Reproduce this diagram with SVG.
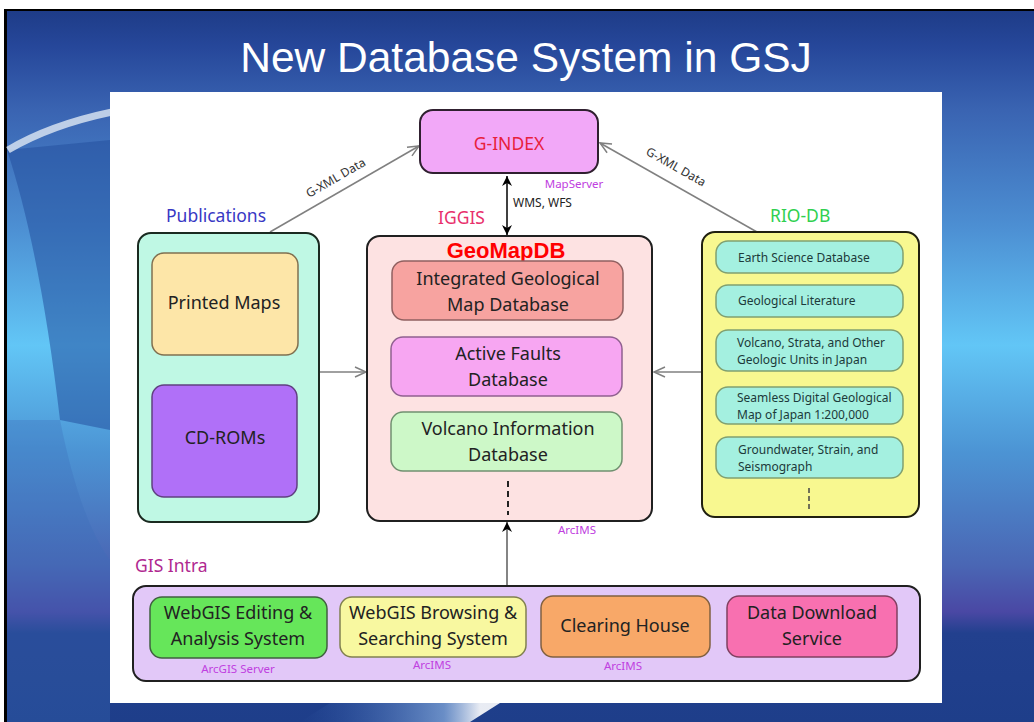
<svg xmlns="http://www.w3.org/2000/svg" width="1034" height="722" viewBox="0 0 1034 722">
<defs>
<linearGradient id="bg" x1="0" y1="11" x2="0" y2="722" gradientUnits="userSpaceOnUse">
<stop offset="0" stop-color="#1e3c88"/>
<stop offset="0.05" stop-color="#26479a"/>
<stop offset="0.14" stop-color="#3a64b2"/>
<stop offset="0.3" stop-color="#4c8ed2"/>
<stop offset="0.47" stop-color="#62c6f6"/>
<stop offset="0.62" stop-color="#4c94d4"/>
<stop offset="0.78" stop-color="#4a66b4"/>
<stop offset="0.845" stop-color="#4a48a4"/>
<stop offset="0.875" stop-color="#22408e"/>
<stop offset="1" stop-color="#1e3e8a"/>
</linearGradient>
<linearGradient id="sw" x1="300" y1="0" x2="480" y2="0" gradientUnits="userSpaceOnUse">
<stop offset="0" stop-color="#3a66b4" stop-opacity="0"/>
<stop offset="0.8" stop-color="#8ab0e0" stop-opacity="0.7"/>
<stop offset="1" stop-color="#ffffff" stop-opacity="0.9"/>
</linearGradient>
<marker id="open" markerWidth="14" markerHeight="12" refX="12" refY="6" orient="auto" markerUnits="userSpaceOnUse">
<path d="M1,1 L12,6 L1,11" fill="none" stroke="#808080" stroke-width="1.5"/>
</marker>
<marker id="solid" markerWidth="12" markerHeight="12" refX="10" refY="6" orient="auto-start-reverse" markerUnits="userSpaceOnUse">
<path d="M0,1 L10,6 L0,11 L3,6 Z" fill="#000"/>
</marker>
</defs>
<style>
.t{font-family:"Noto Sans","Liberation Sans",Arial,sans-serif;}
.h{font-size:17.5px;}
.b{font-size:18px;fill:#222;text-anchor:middle;}
.s{font-size:12px;fill:#1c3a3a;}
.l{font-size:11.5px;fill:#c040e0;text-anchor:middle;}
.box{stroke-width:2;}
.inner{stroke-width:1.5;}
.conn{fill:none;stroke:#808080;stroke-width:1.5;}
</style>
<!-- slide background -->
<rect x="0" y="0" width="1034" height="722" fill="#ffffff"/>
<rect x="4" y="9" width="1030" height="713" fill="#000000"/>
<rect x="7" y="11" width="1027" height="711" fill="url(#bg)"/>
<path d="M7,150 Q40,250 60,420 L110,430 L110,140 Z" fill="#24509e" opacity="0.55"/>
<path d="M7,420 L60,420 Q80,520 110,560 L110,722 L7,722 Z" fill="#3a6cb8" opacity="0.3"/>
<path d="M8,150 Q50,125 112,112" fill="none" stroke="#dfe8f4" stroke-width="7" opacity="0.8"/>
<polygon points="300,722 330,703 500,703 470,722" fill="url(#sw)"/>
<text x="526" y="72" font-family="Liberation Sans, Arial, sans-serif" font-size="42.5" fill="#ffffff" text-anchor="middle">New Database System in GSJ</text>
<rect x="110" y="92" width="832" height="611" fill="#ffffff"/>

<!-- connectors -->
<g id="connectors">
<line class="conn" x1="270" y1="232" x2="419" y2="146" marker-end="url(#open)"/>
<line class="conn" x1="757" y1="232" x2="600" y2="143" marker-end="url(#open)"/>
<line class="conn" x1="320" y1="372" x2="366" y2="372" marker-end="url(#open)"/>
<line class="conn" x1="702" y1="372" x2="654" y2="372" marker-end="url(#open)"/>
<line x1="507" y1="176" x2="507" y2="235" stroke="#000" stroke-width="1.5" marker-start="url(#solid)" marker-end="url(#solid)"/>
<line x1="507" y1="586" x2="507" y2="522" stroke="#333" stroke-width="1.2" marker-end="url(#solid)"/>
<text class="t" font-size="12" fill="#333" transform="translate(309,198) rotate(-30)">G-XML Data</text>
<text class="t" font-size="12" fill="#333" transform="translate(645,154) rotate(29.5)">G-XML Data</text>
<text class="t" x="513" y="207" font-size="12" fill="#222">WMS, WFS</text>
</g>

<g id="g-index">
<rect class="box" x="420" y="110" width="178" height="63" rx="13" fill="#f2a8f8" stroke="#302030"/>
<text class="t" x="509" y="150" font-size="17.5" fill="#e8203c" text-anchor="middle">G-INDEX</text>
<text class="t l" x="574" y="188">MapServer</text>
</g>

<g id="publications">
<text class="t h" x="166" y="222" fill="#3838c4">Publications</text>
<rect class="box" x="138" y="233" width="181" height="289" rx="13" fill="#bff8e4" stroke="#1a2a20"/>
<g id="printed-maps">
<rect class="inner" x="152" y="253" width="146" height="102" rx="12" fill="#fde6a8" stroke="#807050"/>
<text class="t b" x="224" y="309">Printed Maps</text>
</g>
<g id="cd-roms">
<rect class="inner" x="152" y="385" width="145" height="112" rx="12" fill="#b070f8" stroke="#604080"/>
<text class="t b" x="225" y="444" fill="#3a1a6a">CD-ROMs</text>
</g>
</g>

<g id="iggis">
<text class="t h" x="438" y="224" fill="#e8306c">IGGIS</text>
<rect class="box" x="367" y="236" width="285" height="285" rx="13" fill="#fde2e2" stroke="#202020"/>
<text x="506" y="258" font-family="Liberation Sans, Arial, sans-serif" font-weight="bold" font-size="22" fill="#ff0000" text-anchor="middle">GeoMapDB</text>
<g id="integrated">
<rect class="inner" x="392" y="261" width="231" height="59" rx="12" fill="#f7a3a0" stroke="#906060"/>
<text class="t b" x="508" y="285">Integrated Geological</text>
<text class="t b" x="508" y="311">Map Database</text>
</g>
<g id="active-faults">
<rect class="inner" x="391" y="337" width="231" height="59" rx="12" fill="#f7a6f2" stroke="#906090"/>
<text class="t b" x="508" y="360">Active Faults</text>
<text class="t b" x="508" y="386">Database</text>
</g>
<g id="volcano">
<rect class="inner" x="391" y="412" width="231" height="59" rx="12" fill="#cdf8c8" stroke="#709070"/>
<text class="t b" x="508" y="435">Volcano Information</text>
<text class="t b" x="508" y="461">Database</text>
</g>
<line x1="508" y1="481" x2="508" y2="515" stroke="#222" stroke-width="2" stroke-dasharray="6,4"/>
<text class="t l" x="577" y="534">ArcIMS</text>
</g>

<g id="rio-db">
<text class="t h" x="770" y="222" fill="#30d050">RIO-DB</text>
<rect class="box" x="702" y="232" width="217" height="285" rx="13" fill="#f8f890" stroke="#202010"/>
<g id="earth-science">
<rect class="inner" x="716" y="241" width="187" height="32" rx="12" fill="#a4f0e0" stroke="#80a070"/>
<text class="t s" x="738" y="262">Earth Science Database</text>
</g>
<g id="geo-literature">
<rect class="inner" x="716" y="285" width="187" height="32" rx="12" fill="#a4f0e0" stroke="#80a070"/>
<text class="t s" x="738" y="305">Geological Literature</text>
</g>
<g id="volcano-strata">
<rect class="inner" x="716" y="330" width="187" height="41" rx="12" fill="#a4f0e0" stroke="#80a070"/>
<text class="t s" x="737" y="347">Volcano, Strata, and Other</text>
<text class="t s" x="737" y="364">Geologic Units in Japan</text>
</g>
<g id="seamless">
<rect class="inner" x="716" y="387" width="187" height="37" rx="12" fill="#a4f0e0" stroke="#80a070"/>
<text class="t s" x="737" y="402">Seamless Digital Geological</text>
<text class="t s" x="737" y="419">Map of Japan 1:200,000</text>
</g>
<g id="groundwater">
<rect class="inner" x="716" y="437" width="187" height="41" rx="12" fill="#a4f0e0" stroke="#80a070"/>
<text class="t s" x="738" y="454">Groundwater, Strain, and</text>
<text class="t s" x="738" y="471">Seismograph</text>
</g>
<line x1="809" y1="488" x2="809" y2="511" stroke="#444" stroke-width="1.5" stroke-dasharray="5,3"/>
</g>

<g id="gis-intra">
<text class="t h" x="135" y="572" fill="#b02890">GIS Intra</text>
<rect class="box" x="133" y="586" width="787" height="95" rx="13" fill="#e2c8f8" stroke="#202020"/>
<g id="webgis-editing">
<rect class="inner" x="150" y="597" width="177" height="61" rx="12" fill="#66e65a" stroke="#406040"/>
<text class="t b" x="238" y="619">WebGIS Editing &amp;</text>
<text class="t b" x="238" y="645">Analysis System</text>
<text class="t l" x="238" y="673">ArcGIS Server</text>
</g>
<g id="webgis-browsing">
<rect class="inner" x="340" y="597" width="186" height="60" rx="12" fill="#f8f8a0" stroke="#808050"/>
<text class="t b" x="433" y="619">WebGIS Browsing &amp;</text>
<text class="t b" x="433" y="645">Searching System</text>
<text class="t l" x="432" y="669">ArcIMS</text>
</g>
<g id="clearing-house">
<rect class="inner" x="541" y="596" width="169" height="61" rx="12" fill="#f8a868" stroke="#806040"/>
<text class="t b" x="625" y="632">Clearing House</text>
<text class="t l" x="623" y="670">ArcIMS</text>
</g>
<g id="data-download">
<rect class="inner" x="727" y="596" width="170" height="61" rx="12" fill="#f870b0" stroke="#804060"/>
<text class="t b" x="812" y="619">Data Download</text>
<text class="t b" x="812" y="645">Service</text>
</g>
</g>
</svg>
